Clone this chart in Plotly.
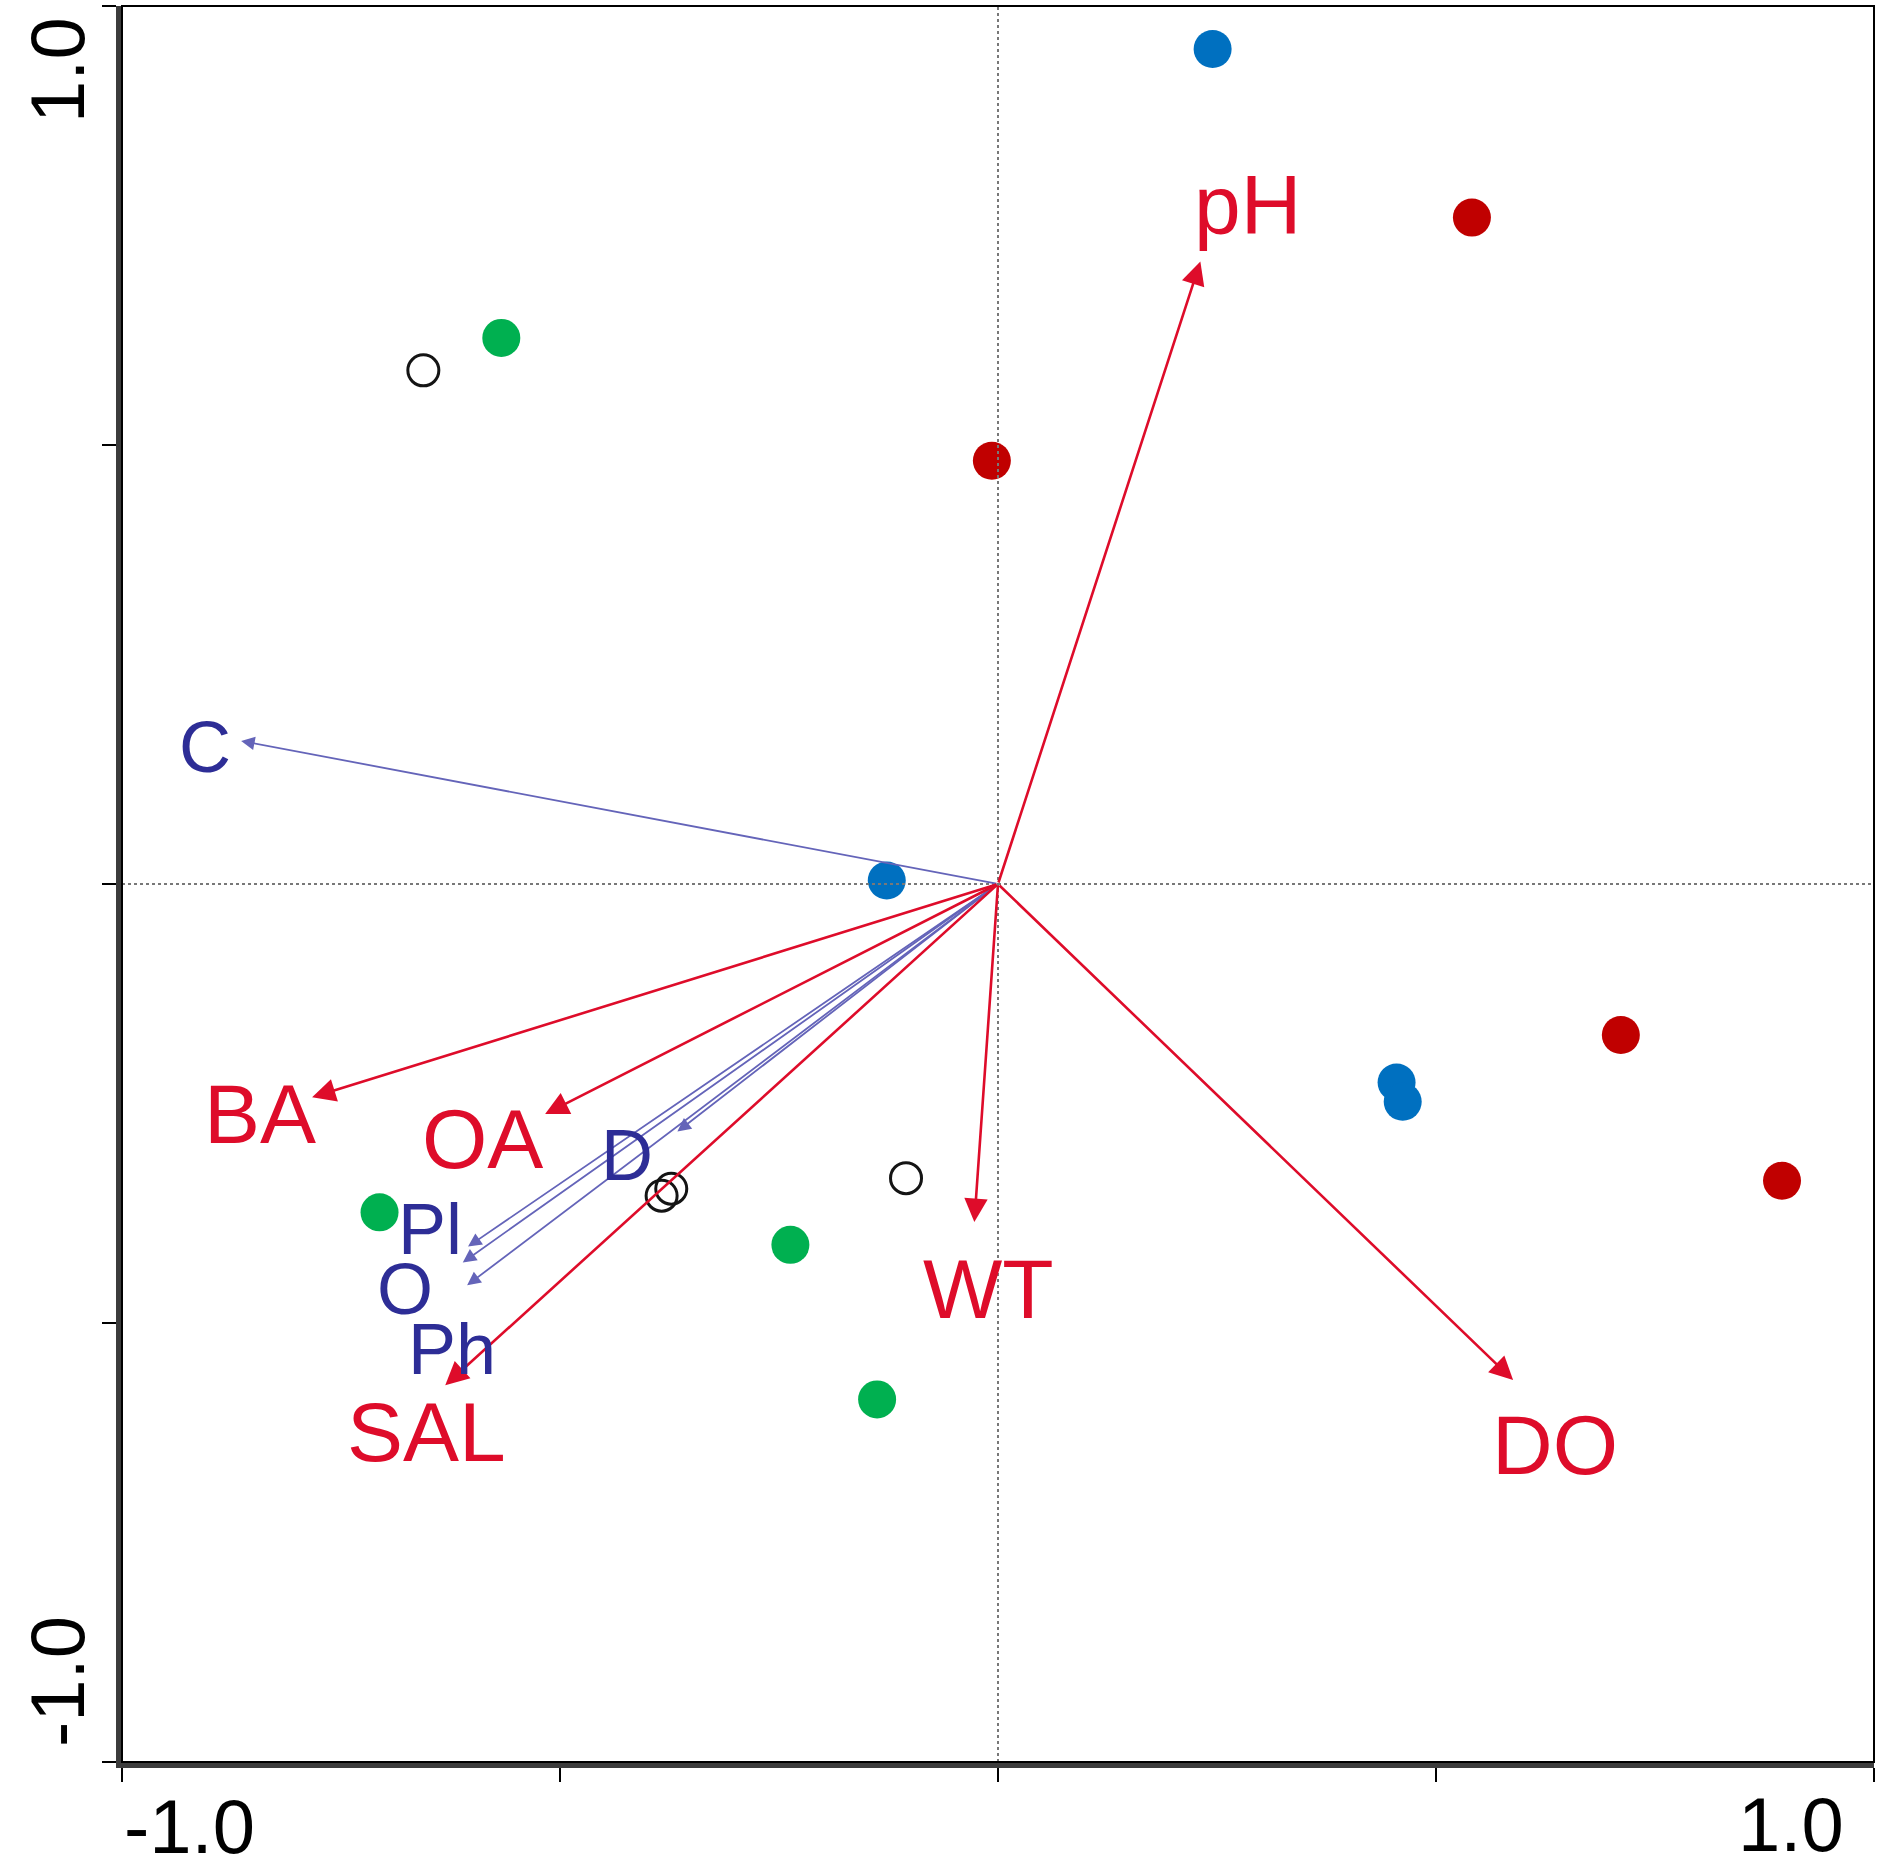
import plotly.graph_objects as go

# sample scores (axis 1, axis 2)
blue_x = [0.245, -0.127, 0.455, 0.462]
blue_y = [0.951, 0.004, -0.226, -0.248]
red_x = [0.541, -0.007, 0.711, 0.895]
red_y = [0.759, 0.482, -0.172, -0.338]
green_x = [-0.567, -0.706, -0.237, -0.138]
green_y = [0.622, -0.374, -0.411, -0.587]
open_x = [-0.656, -0.384, -0.373, -0.105]
open_y = [0.585, -0.355, -0.347, -0.335]

# environmental variables (red arrows)
env_names = ["pH", "BA", "OA", "SAL", "WT", "DO"]
env_x = [0.231, -0.783, -0.517, -0.631, -0.027, 0.588]
env_y = [0.709, -0.243, -0.262, -0.571, -0.385, -0.565]
env_lab_x = [0.285, -0.842, -0.588, -0.652, -0.011, 0.636]
env_lab_y = [0.773, -0.262, -0.290, -0.624, -0.461, -0.639]

# species / groups (blue arrows)
sp_names = ["C", "D", "Pl", "O", "Ph"]
sp_x = [-0.864, -0.366, -0.605, -0.611, -0.606]
sp_y = [0.163, -0.282, -0.413, -0.431, -0.457]
sp_lab_x = [-0.905, -0.424, -0.648, -0.677, -0.623]
sp_lab_y = [0.156, -0.309, -0.393, -0.461, -0.530]

tick_vals = [-1.0, -0.5, 0.0, 0.5, 1.0]
tick_labels = ["-1.0", "1.0"]

RED = "rgb(222,12,42)"
NAVY = "rgb(45,45,150)"
ARROW_BLUE = "rgb(100,100,185)"

fig = go.Figure()

fig.add_hline(y=0, line=dict(color="rgb(120,120,120)", width=2, dash="dot"))
fig.add_vline(x=0, line=dict(color="rgb(120,120,120)", width=2, dash="dot"))

def pts(x, y, color, size=38, line=None):
    return go.Scatter(x=x, y=y, mode="markers", showlegend=False, cliponaxis=False,
                      marker=dict(size=size, color=color, line=line or dict(width=0)))

fig.add_trace(pts(green_x, green_y, "rgb(0,176,80)"))
fig.add_trace(pts(red_x, red_y, "rgb(192,0,0)"))
fig.add_trace(pts(blue_x, blue_y, "rgb(0,112,192)"))
fig.add_trace(pts(open_x, open_y, "rgba(0,0,0,0)", size=31,
                  line=dict(width=3, color="rgb(20,20,20)")))

# arrows from origin
for n, x, y in zip(sp_names, sp_x, sp_y):
    fig.add_annotation(x=x, y=y, ax=0, ay=0, xref="x", yref="y", axref="x", ayref="y",
                       text="", showarrow=True, arrowhead=2, arrowsize=1.5,
                       arrowwidth=1.8, arrowcolor=ARROW_BLUE, standoff=0)
for n, x, y in zip(env_names, env_x, env_y):
    fig.add_annotation(x=x, y=y, ax=0, ay=0, xref="x", yref="y", axref="x", ayref="y",
                       text="", showarrow=True, arrowhead=2, arrowsize=1.8,
                       arrowwidth=2.6, arrowcolor=RED, standoff=0)

for n, x, y in zip(env_names, env_lab_x, env_lab_y):
    fig.add_annotation(x=x, y=y, text=n, showarrow=False, xanchor="center", yanchor="middle",
                       font=dict(family="Liberation Sans, Arial", size=84, color=RED))
for n, x, y in zip(sp_names, sp_lab_x, sp_lab_y):
    fig.add_annotation(x=x, y=y, text=n, showarrow=False, xanchor="center", yanchor="middle",
                       font=dict(family="Liberation Sans, Arial", size=72, color=NAVY))

# tick labels at the ends of the axes
tick_font = dict(family="Liberation Sans Narrow, Liberation Sans, Arial", size=76, color="black")
fig.add_annotation(x=tick_vals[0], y=0, xref="x", yref="paper", text=tick_labels[0],
                   showarrow=False, xanchor="left", yanchor="middle", xshift=0, yshift=-64,
                   font=tick_font)
fig.add_annotation(x=tick_vals[-1], y=0, xref="x", yref="paper", text=tick_labels[1],
                   showarrow=False, xanchor="right", yanchor="middle", xshift=-28, yshift=-62,
                   font=tick_font)
fig.add_annotation(x=0, y=tick_vals[-1], xref="paper", yref="y", text=tick_labels[1],
                   showarrow=False, textangle=-90, xanchor="center", yanchor="middle",
                   xshift=-65, yshift=-64, font=tick_font)
fig.add_annotation(x=0, y=tick_vals[0], xref="paper", yref="y", text=tick_labels[0],
                   showarrow=False, textangle=-90, xanchor="center", yanchor="middle",
                   xshift=-65, yshift=80, font=tick_font)

# thin frame on top and right
fig.add_shape(type="rect", xref="paper", yref="paper", x0=0, y0=0, x1=1, y1=1,
              line=dict(color="black", width=2))

axis_common = dict(range=[-1, 1], tickvals=tick_vals, showticklabels=False,
                   ticks="outside", ticklen=14, tickwidth=2, tickcolor="black",
                   showgrid=False, zeroline=False, showline=True,
                   linecolor="rgb(60,60,60)", linewidth=6)

fig.update_xaxes(**axis_common)
fig.update_yaxes(**axis_common)

fig.update_layout(width=1890, height=1868, plot_bgcolor="white", paper_bgcolor="white",
                  margin=dict(l=122, r=16, t=6, b=106), showlegend=False)

# drop the default page margin so the figure sits at the window corner
fig.write_html("out.html", config={"displayModeBar": False},
               post_script="document.body.style.margin='0';")
